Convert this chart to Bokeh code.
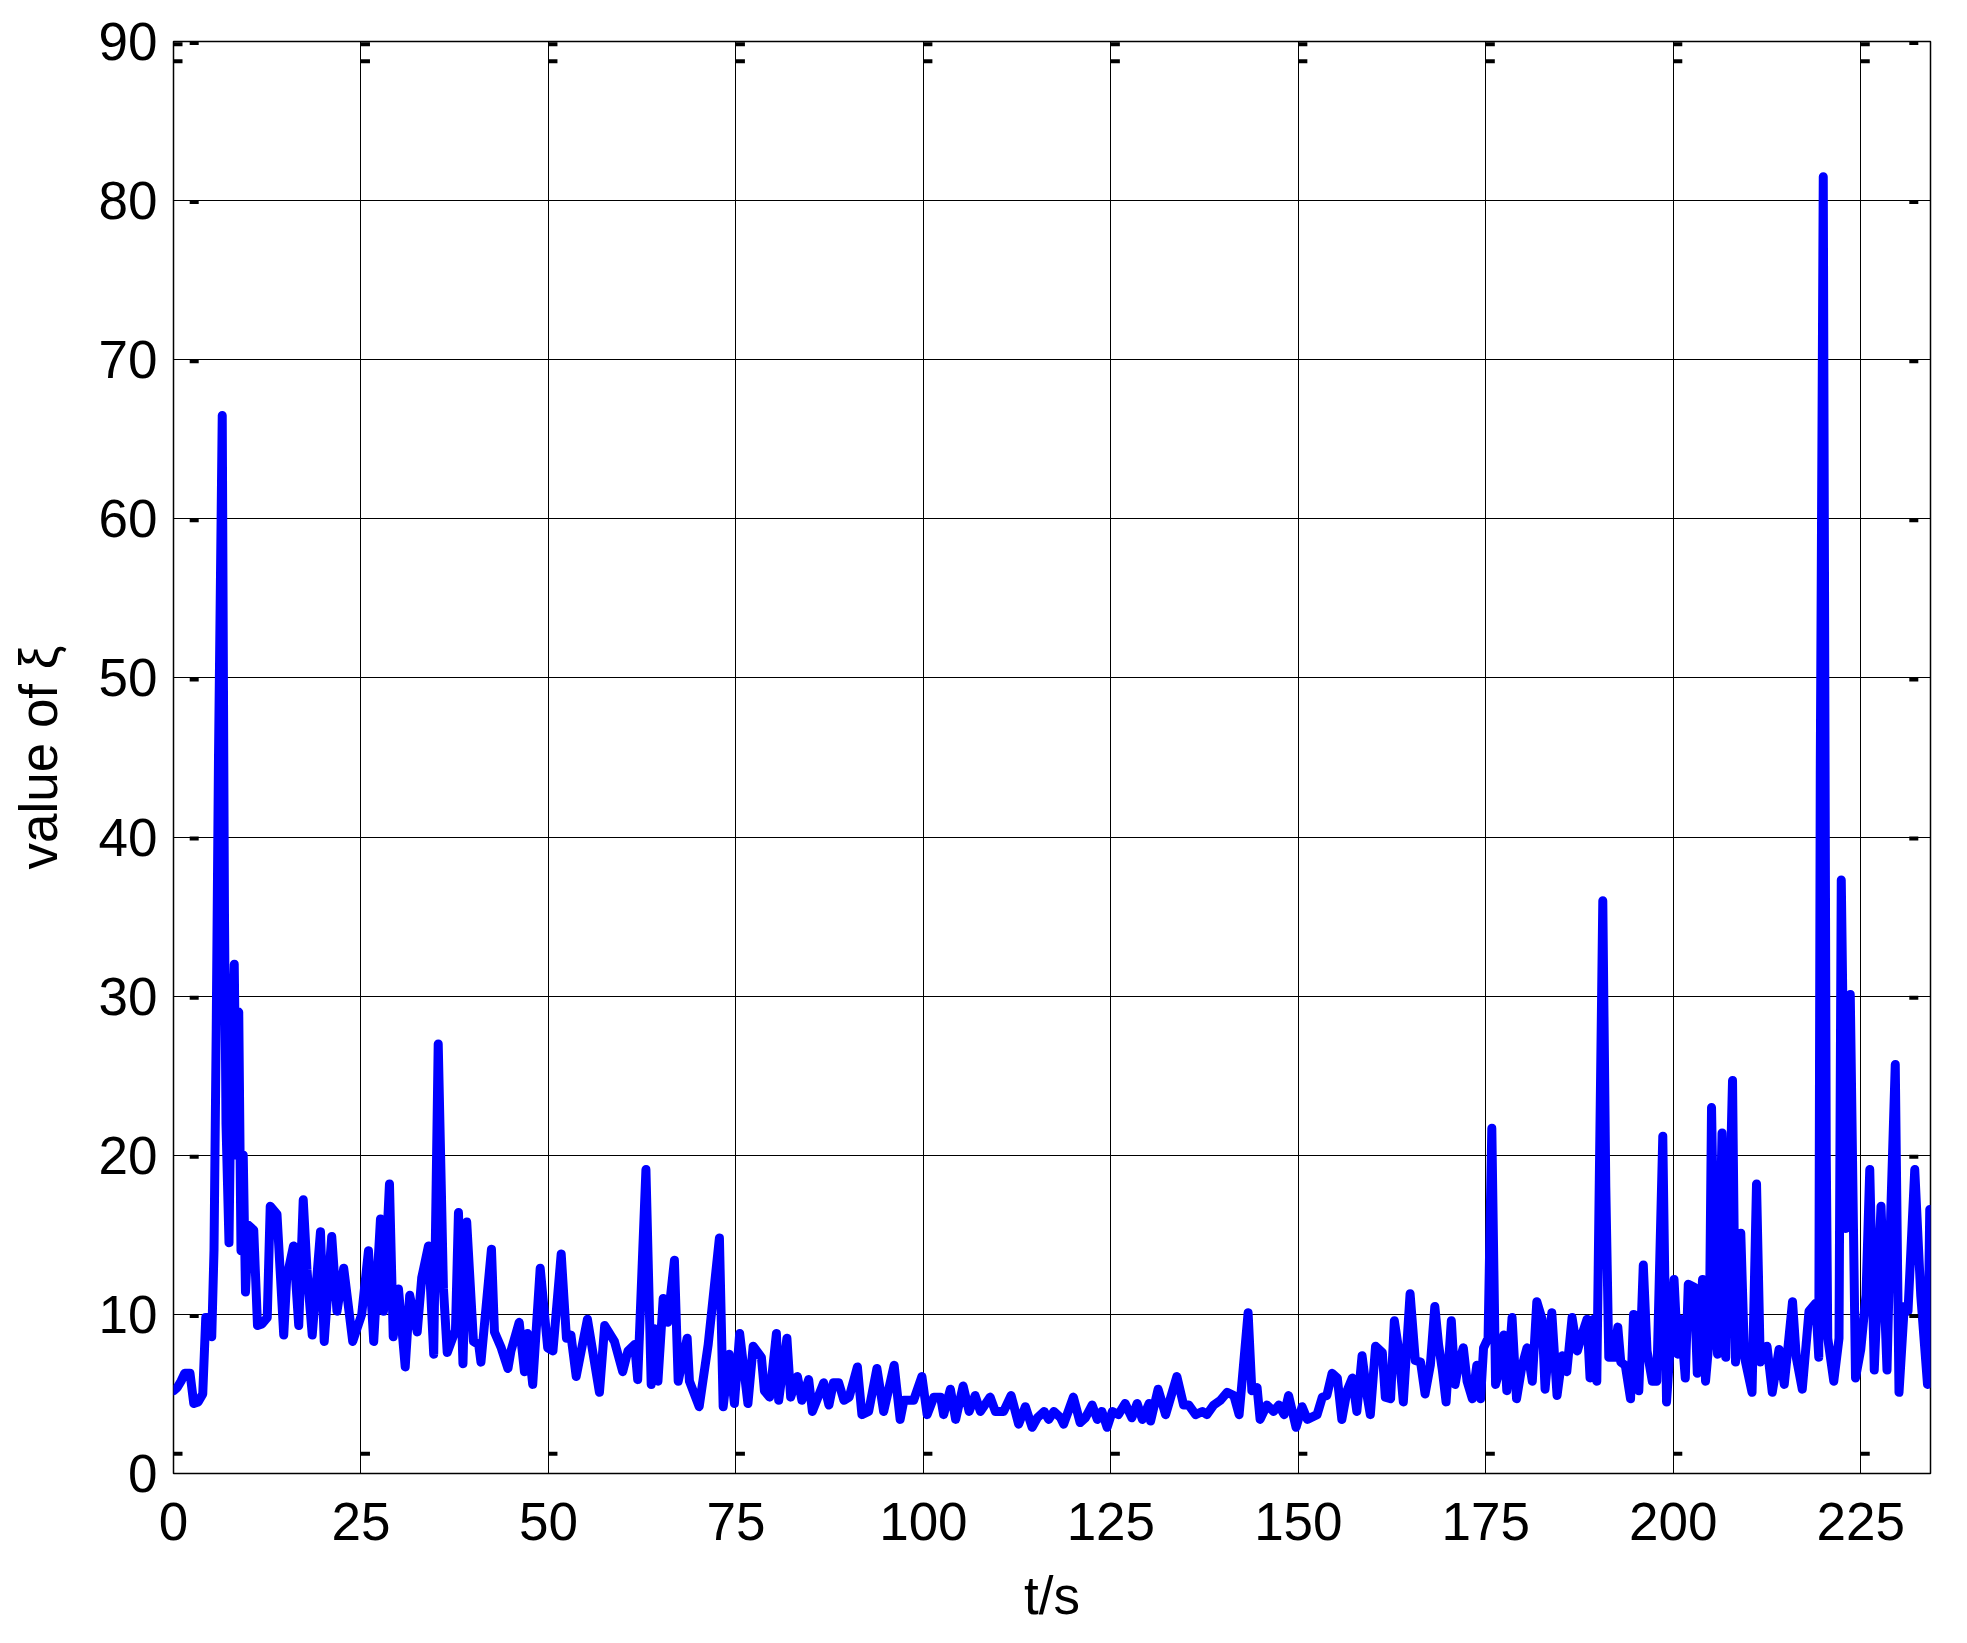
from bokeh.plotting import figure
from bokeh.models import Range1d, FixedTicker
from bokeh.embed import file_html
from bokeh.resources import INLINE

# ---- data ----
t_seg_a = [0, 0.5, 1.0, 1.5, 2.2, 2.7, 3.3, 3.9, 4.3, 4.8, 5.1, 5.4, 5.7, 6.0, 6.5, 6.8, 7.0, 7.4, 7.7, 8.1,
           8.4, 8.7, 9.0, 9.3, 9.6]
v_seg_a = [5.2, 5.4, 5.8, 6.3, 6.3, 4.4, 4.5, 5.0, 9.8, 9.8, 8.6, 14, 28, 45, 66.5, 35, 22, 14.5, 26, 32,
           20, 29, 14, 20, 11.4]

t_seg_b = [10.0, 10.7, 11.2, 11.8, 12.5, 12.9, 13.8, 14.7, 15.1, 16.0, 16.7, 17.3, 17.8, 18.5, 19.6, 20.1,
           21.1, 21.8, 22.7, 23.9, 25.1, 26.0, 26.7, 27.6, 28.0, 28.8, 29.3, 30.0, 30.9, 31.5, 32.5, 33.1,
           34.0, 34.7, 35.3, 36.0, 36.5, 37.6, 38.0, 38.6, 39.1, 40.0]
v_seg_b = [15.6, 15.3, 9.3, 9.4, 9.8, 16.8, 16.3, 8.7, 12.3, 14.3, 9.3, 17.2, 12.8, 8.7, 15.2, 8.3,
           14.9, 10.2, 12.9, 8.3, 10.0, 14.0, 8.3, 16.0, 10.2, 18.2, 8.6, 11.6, 6.7, 11.2, 8.9, 12.3,
           14.3, 7.5, 27.0, 11.6, 7.6, 9.0, 16.4, 6.9, 15.8, 8.3]

t_seg_c = [40.7, 41.0, 42.4, 42.8, 43.7, 44.6, 45.0, 46.1, 46.8, 47.2, 47.9, 48.9, 49.9, 50.6, 51.7, 52.4,
           53.0, 53.7, 55.2, 56.8, 57.5, 58.8, 59.9, 60.6, 61.5, 61.9, 63.0, 63.7, 64.1, 64.6, 65.3, 65.9,
           66.8, 67.3, 68.5, 68.8, 70.1, 71.3, 72.8, 73.3, 74.1, 74.8, 75.5, 76.6, 77.3, 78.4, 78.8, 79.5,
           80.4, 80.7]
v_seg_c = [8.1, 7.0, 14.1, 8.9, 7.9, 6.6, 7.7, 9.5, 6.4, 8.8, 5.6, 12.9, 7.9, 7.7, 13.8, 8.5,
           8.7, 6.1, 9.7, 5.1, 9.3, 8.3, 6.4, 7.7, 8.1, 5.9, 19.1, 5.6, 9.1, 5.8, 11.0, 9.5,
           13.4, 5.8, 8.5, 5.8, 4.2, 8.1, 14.8, 4.2, 7.5, 4.4, 8.8, 4.4, 8.0, 7.3, 5.2, 4.8,
           8.8, 4.6]

t_seg_d = [81.8, 82.3, 83.2, 83.8, 84.7, 85.2, 86.7, 87.4, 88.0, 88.7, 89.4, 90.1, 91.2, 91.8, 92.7, 93.8,
           94.7, 96.1, 96.9, 97.4, 98.7, 99.8, 100.5, 101.4, 102.3, 102.7, 103.6, 104.3, 105.3, 106.1,
           106.9, 107.6, 108.9, 109.6, 110.7, 111.7, 112.7, 113.6, 114.5, 115.2, 116.1, 116.7, 117.4,
           118.3, 118.7, 120.0]
v_seg_d = [8.5, 4.8, 6.1, 4.6, 5.9, 3.9, 5.7, 4.3, 5.7, 5.7, 4.6, 4.8, 6.7, 3.7, 3.9, 6.6,
           3.9, 6.8, 3.4, 4.6, 4.6, 6.1, 3.7, 4.8, 4.8, 3.7, 5.3, 3.4, 5.5, 3.9,
           4.9, 3.9, 4.8, 3.9, 3.9, 4.9, 3.1, 4.2, 2.9, 3.5, 3.9, 3.4, 3.9,
           3.5, 3.1, 4.8]

t_seg_e = [120.9, 121.6, 122.5, 123.2, 123.8, 124.5, 125.2, 126.0, 126.9, 127.8, 128.5, 129.2, 130.1,
           130.3, 131.3, 132.3, 133.8, 134.7, 135.4, 136.3, 137.2, 137.8, 138.7, 139.6, 140.5, 141.4,
           142.1, 142.5, 143.3, 143.8, 144.5, 144.9, 145.8, 146.7, 147.4, 148.1, 148.7, 149.2, 149.7,
           150.5, 151.2, 152.5, 153.2, 153.8, 154.5, 155.2, 155.8, 156.5, 157.2, 157.8, 158.5, 159.2,
           159.6, 160.3]
v_seg_e = [3.2, 3.5, 4.3, 3.4, 3.9, 2.9, 3.9, 3.7, 4.4, 3.5, 4.4, 3.4, 4.4,
           3.3, 5.3, 3.7, 6.1, 4.3, 4.3, 3.7, 3.9, 3.7, 4.3, 4.6, 5.1, 4.9,
           3.7, 5.8, 10.1, 5.2, 5.4, 3.4, 4.3, 3.9, 4.3, 3.7, 4.9, 3.9, 2.9,
           4.2, 3.4, 3.7, 4.8, 4.9, 6.3, 6.0, 3.4, 5.2, 6.0, 3.9, 7.4, 4.8,
           3.7, 8.0]

t_seg_f = [161.2, 161.6, 162.3, 162.8, 163.4, 164.0, 164.9, 165.6, 166.3, 166.9, 167.6, 168.2, 168.7,
           169.2, 169.7, 170.4, 170.9, 171.4, 172.0, 172.5, 173.2, 173.8, 174.3, 174.7, 175.3, 175.8,
           176.3, 176.9, 177.4, 177.8, 178.5, 179.1, 179.8, 180.5, 181.2, 181.8, 182.5, 182.9, 183.8,
           184.5, 185.2, 185.8, 186.5, 187.2, 187.8, 188.5, 188.9, 189.4, 189.8, 190.6, 191.0, 191.4,
           192.1, 192.6, 193.0, 193.6, 194.3, 194.7, 195.4, 196.0, 196.5, 197.2, 197.8, 198.6, 199.1,
           199.6]
v_seg_f = [7.6, 4.8, 4.7, 9.6, 7.7, 4.5, 11.3, 7.1, 7.0, 5.0, 6.8, 10.5, 8.1,
           6.5, 4.5, 9.6, 5.6, 6.9, 7.9, 5.8, 4.7, 6.8, 4.7, 7.9, 8.5, 21.7,
           5.6, 6.6, 8.7, 5.2, 9.8, 4.7, 6.7, 7.9, 5.8, 10.8, 9.7, 5.3, 10.1,
           4.9, 7.4, 6.4, 9.8, 7.7, 8.7, 9.7, 6.0, 9.7, 5.8, 36.0, 18.0, 7.3,
           7.3, 9.2, 7.0, 6.8, 4.7, 10.0, 5.2, 13.1, 7.7, 5.8, 5.8, 21.2, 4.5,
           8.1]

t_seg_g = [200.1, 200.6, 201.0, 201.6, 202.0, 202.8, 203.2, 203.9, 204.3, 204.8, 205.1, 205.4, 205.9,
           206.5, 207.0, 207.9, 208.3, 209.0, 209.5, 210.5, 211.1, 211.6, 212.5, 213.2, 214.1, 214.8,
           215.9, 216.4, 217.2, 218.1, 219.0, 219.4, 219.6, 220.0, 220.4, 220.6, 221.4, 222.1, 222.4,
           223.0, 223.6, 224.3, 225.0, 225.7, 226.2, 226.8, 227.7, 228.5, 229.0, 229.6, 230.1, 230.8,
           231.3, 232.2, 233.0, 233.9, 234.2]
v_seg_g = [12.2, 7.5, 9.7, 6.0, 11.9, 11.7, 6.3, 12.2, 5.8, 8.5, 23.0, 14.6, 7.5,
           21.4, 7.3, 24.7, 7.0, 15.1, 7.3, 5.1, 18.2, 7.0, 8.0, 5.1, 7.8, 5.6,
           10.8, 7.3, 5.3, 10.2, 10.7, 7.3, 44.0, 81.5, 20.0, 8.5, 5.8, 8.5, 37.3,
           15.4, 30.1, 6.0, 7.8, 11.2, 19.1, 6.5, 16.8, 6.5, 16.4, 25.7, 5.1, 10.5,
           10.2, 19.1, 11.2, 5.6, 16.6]

x_ticks = [0, 25, 50, 75, 100, 125, 150, 175, 200, 225]
y_ticks = [0, 10, 20, 30, 40, 50, 60, 70, 80, 90]
x_label = "t/s"
y_label = "value of ξ"

t = t_seg_a + t_seg_b + t_seg_c + t_seg_d + t_seg_e + t_seg_f + t_seg_g
xi = v_seg_a + v_seg_b + v_seg_c + v_seg_d + v_seg_e + v_seg_f + v_seg_g

X_MAX = 234.3
Y_MAX = 90
FW, FH = 1757, 1432
FONT = "Liberation Sans"

p = figure(frame_width=FW, frame_height=FH,
           x_range=Range1d(0, X_MAX), y_range=Range1d(0, Y_MAX),
           output_backend="svg", toolbar_location=None,
           min_border_left=173, min_border_top=41, min_border_right=20, min_border_bottom=160,
           background_fill_color="white", border_fill_color="white")

p.xaxis.ticker = FixedTicker(ticks=x_ticks)
p.yaxis.ticker = FixedTicker(ticks=y_ticks)
for ax in (p.xaxis, p.yaxis):
    ax.axis_line_color = None
    ax.major_tick_line_color = None
    ax.minor_tick_line_color = None
    ax.major_label_text_font = FONT
    ax.major_label_text_font_size = "53px"
    ax.major_label_text_color = "black"
    ax.axis_label_text_font = FONT
    ax.axis_label_text_font_size = "53px"
    ax.axis_label_text_font_style = "normal"
    ax.axis_label_text_color = "black"
p.xaxis.major_label_standoff = 23
p.yaxis.major_label_standoff = 10
p.xaxis.axis_label = x_label
p.yaxis.axis_label = y_label
p.xaxis.axis_label_standoff = 23
p.yaxis.axis_label_standoff = 28

p.grid.grid_line_color = "black"
p.grid.grid_line_width = 1
p.grid.grid_line_alpha = 1.0
p.outline_line_color = "black"
p.outline_line_width = 1.5

p.line(t, xi, line_color="#0000FF", line_width=9, line_join="round", line_cap="round")

# MATLAB-style offset tick dashes, placed from the tick arrays
dx = X_MAX / FW
dy = Y_MAX / FH
dash_x, dash_y = [], []
for xt in x_ticks:
    for off in (2.7, 19.7):
        dash_x.append(xt + 4.5 * dx)
        dash_y.append(Y_MAX - off * dy)
    dash_x.append(xt + 4.5 * dx)
    dash_y.append(19.8 * dy)
for yt in y_ticks:
    for xpos in (20.7 * dx, X_MAX - 16.7 * dx):
        dash_x.append(xpos)
        dash_y.append(yt - 1.5 * dy)
p.rect(x=dash_x, y=dash_y, width=9, height=4, width_units="screen", height_units="screen",
       fill_color="black", line_color=None)

open("out.html", "w").write(file_html(p, INLINE))
